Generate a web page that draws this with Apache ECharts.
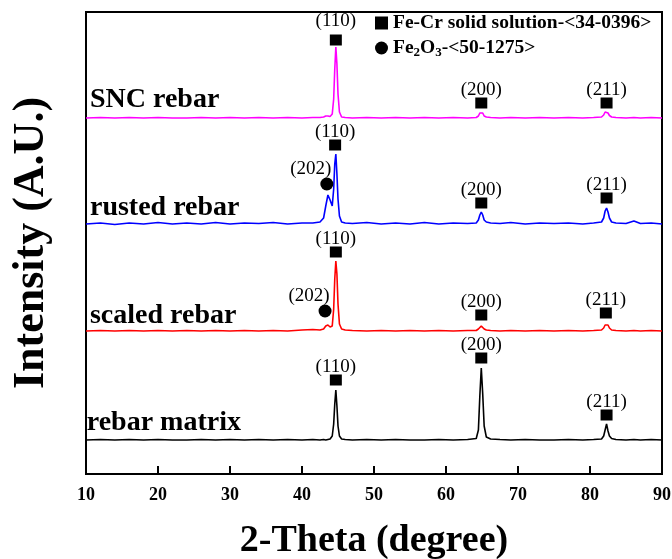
<!DOCTYPE html>
<html>
<head>
<meta charset="utf-8">
<script src="https://cdn.jsdelivr.net/npm/echarts@6/dist/echarts.min.js"></script>
<style>
  html, body { margin: 0; padding: 0; background: #fff; }
  #xrd { width: 672px; height: 559px; }
</style>
</head>
<body>
<div id="xrd"></div>
<script>
// 2-theta positions (degree), shared by all four patterns
var theta = [10, 12, 14, 16, 18, 20, 22, 24, 26, 28, 30, 32, 34, 36, 38, 40,
  41.5, 42.5, 43.0, 43.3, 43.6, 43.9, 44.2, 44.4, 44.55, 44.7, 44.85, 45.0, 45.2, 45.5, 46, 47,
  49, 51, 53, 55, 57, 59, 61, 63,
  64.2, 64.5, 64.7, 64.9, 65.1, 65.3, 65.6, 66.2,
  67.5, 69, 71, 73, 75, 77, 79, 80.5,
  81.6, 81.9, 82.1, 82.3, 82.5, 82.7, 83.0, 83.6,
  85, 86.1, 87, 88.5, 90];

// intensities (a.u., already offset for stacking)
var snc = [356, 356.5, 356, 356.5, 356, 356.5, 356, 356, 356.5, 356, 356.5, 356, 356.5, 356, 356.5, 356,
  356.5, 356.5, 357, 358, 358, 357.5, 360, 375, 405, 427, 410, 380, 362, 357, 356.5, 356,
  356.5, 356, 356.5, 356, 356.5, 356, 356.5, 356,
  356.5, 358, 361, 363, 361, 358, 357, 356.5,
  356, 356.5, 356, 356.5, 356, 356.5, 356, 356.5,
  357, 359, 362, 363, 361, 358.5, 357, 356.5,
  356, 356.5, 356, 356.5, 356];
var rusted = [250, 251, 249.5, 251, 250, 251.5, 250, 251, 250, 251.5, 250, 251, 250.5, 251.5, 250, 251,
  251, 252, 256, 268, 279, 274, 268, 285, 310, 320, 300, 275, 258, 252, 251, 250.5,
  251.5, 250, 251, 250, 251.5, 250, 251, 250.5,
  251, 254, 259, 262, 259, 254, 252, 251,
  250.5, 251.5, 250, 251, 250.5, 251, 250, 251,
  252, 256, 263, 266, 262, 256, 252, 251,
  250.5, 253, 250.5, 251, 250];
var scaled = [143, 143.5, 143, 143.5, 143, 143.5, 143, 143.5, 143, 143.5, 143, 143.5, 143, 143.5, 143, 144,
  144.5, 144, 145, 148, 149, 147, 148, 165, 195, 213, 200, 170, 150, 145, 144, 143.5,
  143, 143.5, 143, 143.5, 143, 143.5, 143, 143.5,
  143.5, 145, 147, 148, 147, 145, 144, 143.5,
  143, 143.5, 143, 143.5, 143, 143.5, 143, 143.5,
  144, 146, 149, 151, 149, 146, 144, 143.5,
  143, 143.5, 143, 143.5, 143];
var matrix = [34, 34.5, 34, 34.5, 34, 34.5, 34, 34, 34.5, 34, 34.5, 34, 34.5, 34, 34.5, 34,
  34.5, 34, 34.5, 34, 34.5, 35, 38, 50, 70, 84, 68, 48, 38, 35, 34.5, 34,
  34.5, 34, 34.5, 34, 34, 34.5, 34, 34.5,
  35.5, 44, 78, 106, 80, 48, 37, 35,
  34.5, 34, 34.5, 34, 34, 34.5, 34, 34.5,
  35, 38, 44, 50, 43, 38, 35.5, 34.5,
  34, 34.5, 34, 34.5, 34];

// peak markers: Fe-Cr solid solution (squares)
var feCrLabels = ['(110)', '(200)', '(211)', '(110)', '(200)', '(211)', '(110)', '(200)', '(211)', '(110)', '(200)', '(211)'];
var feCrTheta = [44.7, 64.9, 82.3, 44.6, 64.9, 82.3, 44.7, 64.9, 82.2, 44.7, 64.9, 82.3];
var feCrValue = [434, 371, 371, 329, 271, 276, 222, 159, 161, 94, 116, 59];

// peak markers: Fe2O3 (circles)
var oxideLabels = ['(202)', '(202)'];
var oxideTheta = [43.45, 43.2];
var oxideValue = [290, 163];

// pattern names
var sampleNames = ['SNC rebar', 'rusted rebar', 'scaled rebar', 'rebar matrix'];
var sampleTheta = [10.55, 10.55, 10.55, 10.1];
var sampleValue = [374, 266, 158, 51];

var serif = 'Liberation Serif';
var feCrName = 'Fe-Cr solid solution-<34-0396>';
var oxideName = 'Fe2O3-<50-1275>';

function pairs(ys) {
  return theta.map(function (t, i) { return [t, ys[i]]; });
}

var chart = echarts.init(document.getElementById('xrd'));

var option = {
  animation: false,
  textStyle: { fontFamily: serif },
  grid: {
    left: 86, right: 10, top: 12, bottom: 85,
    outerBoundsMode: 'none',
    show: true, borderColor: '#000', borderWidth: 2
  },
  legend: {
    data: [feCrName, oxideName],
    orient: 'vertical',
    left: 370, top: 8,
    itemWidth: 13, itemHeight: 13, itemGap: 5,
    textStyle: {
      fontFamily: serif, fontWeight: 'bold', fontSize: 19.5, color: '#000',
      rich: {
        s: { fontFamily: serif, fontWeight: 'bold', fontSize: 13, color: '#000', padding: [9, 0, 0, 0] }
      }
    },
    formatter: function (name) {
      return name === oxideName ? 'Fe{s|2}O{s|3}-<50-1275>' : name;
    }
  },
  xAxis: {
    type: 'value', min: 10, max: 90, interval: 10,
    name: '2-Theta (degree)', nameLocation: 'middle', nameGap: 48,
    nameTextStyle: { fontFamily: serif, fontWeight: 'bold', fontSize: 38, color: '#000' },
    axisLine: { lineStyle: { color: '#000', width: 2 } },
    axisTick: { inside: true, length: 8, lineStyle: { color: '#000', width: 2 } },
    axisLabel: { fontFamily: serif, fontWeight: 'bold', fontSize: 18, color: '#000', margin: 12 },
    splitLine: { show: false }
  },
  yAxis: {
    type: 'value', min: 0, max: 462,
    name: 'Intensity (A.U.)', nameLocation: 'middle', nameGap: 32, nameRotate: 90,
    nameTextStyle: { fontFamily: serif, fontWeight: 'bold', fontSize: 44, color: '#000' },
    axisLine: { show: true, lineStyle: { color: '#000', width: 2 } },
    axisTick: { show: false },
    axisLabel: { show: false },
    splitLine: { show: false }
  },
  series: [
    { name: 'rebar matrix', type: 'line', data: pairs(matrix), showSymbol: false, lineStyle: { color: '#000', width: 1.6 } },
    { name: 'scaled rebar', type: 'line', data: pairs(scaled), showSymbol: false, lineStyle: { color: '#ff0000', width: 1.6 } },
    { name: 'rusted rebar', type: 'line', data: pairs(rusted), showSymbol: false, lineStyle: { color: '#0000ff', width: 1.6 } },
    { name: 'SNC rebar', type: 'line', data: pairs(snc), showSymbol: false, lineStyle: { color: '#ff00ff', width: 1.6 } },
    {
      name: feCrName, type: 'scatter', symbol: 'rect', symbolSize: [12, 11],
      itemStyle: { color: '#000', opacity: 1 },
      label: { show: true, position: 'top', distance: -2, formatter: '{b}', fontFamily: serif, fontSize: 19, color: '#000' },
      data: feCrTheta.map(function (t, i) {
        var item = { name: feCrLabels[i], value: [t, feCrValue[i]] };
        if (i === 0) item.label = { distance: 4 };
        return item;
      }),
      z: 5
    },
    {
      name: oxideName, type: 'scatter', symbol: 'circle', symbolSize: 13,
      itemStyle: { color: '#000', opacity: 1 },
      label: { show: true, position: 'top', distance: -1, offset: [-16, 0], formatter: '{b}', fontFamily: serif, fontSize: 19, color: '#000' },
      data: oxideTheta.map(function (t, i) { return { name: oxideLabels[i], value: [t, oxideValue[i]] }; }),
      z: 5
    },
    {
      name: 'samples', type: 'scatter', symbolSize: 0, silent: true,
      itemStyle: { opacity: 1 },
      label: { show: true, position: 'right', distance: 0, formatter: '{b}', fontFamily: serif, fontWeight: 'bold', fontSize: 28, color: '#000' },
      data: sampleTheta.map(function (t, i) { return { name: sampleNames[i], value: [t, sampleValue[i]] }; }),
      z: 6
    }
  ]
};

chart.setOption(option);
</script>
</body>
</html>
